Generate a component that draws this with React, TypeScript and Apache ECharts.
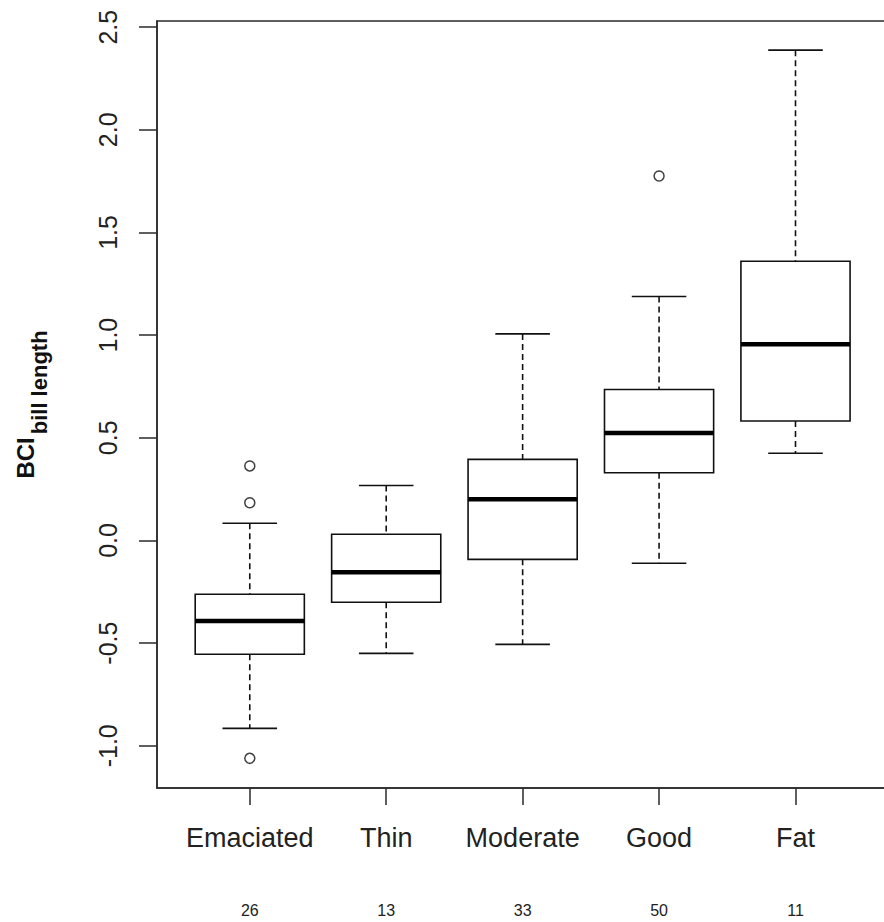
import React, { useEffect, useRef } from "react";
import * as echarts from "echarts";

const categories = ["Emaciated", "Thin", "Moderate", "Good", "Fat"];
const counts = [26, 13, 33, 50, 11];
const lowerWhisker = [-0.915, -0.55, -0.506, -0.111, 0.425];
const q1 = [-0.554, -0.301, -0.092, 0.33, 0.582];
const median = [-0.392, -0.155, 0.201, 0.524, 0.956];
const q3 = [-0.262, 0.03, 0.395, 0.735, 1.36];
const upperWhisker = [0.084, 0.268, 1.006, 1.188, 2.388];
// [category position (1-based), value]
const outliers: [number, number][] = [
  [1, 0.363],
  [1, 0.184],
  [1, -1.061],
  [4, 1.775],
];
const yTicks = [-1.0, -0.5, 0.0, 0.5, 1.0, 1.5, 2.0, 2.5];
const xTicks = [1, 2, 3, 4, 5];

const FONT = "'Liberation Sans', Arial, sans-serif";
const INK = "#111";
const FRAME = "#2a2a2a";

export default function App() {
  const ref = useRef<HTMLDivElement>(null);

  useEffect(() => {
    document.body.style.margin = "0";
    document.body.style.overflow = "hidden";
    if (!ref.current) return;
    const chart = echarts.init(ref.current, undefined, { renderer: "svg" });

    const boxData = categories.map((_, i) => [
      i + 1,
      lowerWhisker[i],
      q1[i],
      median[i],
      q3[i],
      upperWhisker[i],
    ]);

    const renderItem = (_params: any, api: any) => {
      const x = api.value(0);
      const lo = api.value(1);
      const b1 = api.value(2);
      const md = api.value(3);
      const b3 = api.value(4);
      const hi = api.value(5);
      const [cx, yLo] = api.coord([x, lo]);
      const yB1 = api.coord([x, b1])[1];
      const yMd = api.coord([x, md])[1];
      const yB3 = api.coord([x, b3])[1];
      const yHi = api.coord([x, hi])[1];
      const xl = api.coord([x - 0.4, md])[0];
      const xr = api.coord([x + 0.4, md])[0];
      const cl = api.coord([x - 0.2, md])[0];
      const cr = api.coord([x + 0.2, md])[0];
      const dashed = { stroke: INK, lineWidth: 1.6, lineDash: [6, 4], fill: null };
      const solid = { stroke: INK, lineWidth: 1.6, fill: null };
      return {
        type: "group",
        children: [
          { type: "line", shape: { x1: cx, y1: yHi, x2: cx, y2: yB3 }, style: dashed },
          { type: "line", shape: { x1: cx, y1: yB1, x2: cx, y2: yLo }, style: dashed },
          { type: "line", shape: { x1: cl, y1: yHi, x2: cr, y2: yHi }, style: solid },
          { type: "line", shape: { x1: cl, y1: yLo, x2: cr, y2: yLo }, style: solid },
          {
            type: "rect",
            shape: { x: xl, y: yB3, width: xr - xl, height: yB1 - yB3 },
            style: { stroke: INK, lineWidth: 1.6, fill: "#fff" },
          },
          {
            type: "line",
            shape: { x1: xl, y1: yMd, x2: xr, y2: yMd },
            style: { stroke: "#000", lineWidth: 4.5 },
          },
        ],
      };
    };

    chart.setOption({
      animation: false,
      backgroundColor: "#fff",
      grid: {
        left: 157,
        top: 21,
        width: 734,
        height: 767,
        show: true,
        borderColor: FRAME,
        borderWidth: 1.5,
        backgroundColor: "transparent",
      },
      xAxis: {
        type: "value",
        min: 0.32,
        max: 5.7,
        splitLine: { show: false },
        axisLine: { show: true, onZero: false, lineStyle: { color: FRAME, width: 1.5 } },
        axisTick: {
          show: true,
          customValues: xTicks,
          length: 17,
          lineStyle: { color: FRAME, width: 1.5 },
        },
        axisLabel: {
          customValues: xTicks,
          margin: 35,
          formatter: (v: number) => {
            const i = Math.round(v) - 1;
            return `{a|${categories[i]}}\n{b|${counts[i]}}`;
          },
          rich: {
            a: { fontFamily: FONT, fontSize: 27, color: "#222", lineHeight: 30 },
            b: { fontFamily: FONT, fontSize: 16, color: "#222", lineHeight: 114 },
          },
        },
      },
      yAxis: {
        type: "value",
        min: -1.2055,
        max: 2.53,
        splitLine: { show: false },
        axisLine: { show: true, onZero: false, lineStyle: { color: FRAME, width: 1.5 } },
        axisTick: {
          show: true,
          customValues: yTicks,
          length: 18,
          lineStyle: { color: FRAME, width: 1.5 },
        },
        axisLabel: {
          customValues: yTicks,
          rotate: 90,
          margin: 37,
          fontFamily: FONT,
          fontSize: 25,
          color: "#222",
          formatter: (v: number) => v.toFixed(1),
        },
        name: "{a|BCI}{b|bill length}",
        nameLocation: "middle",
        nameRotate: 90,
        nameGap: 107,
        nameTextStyle: {
          rich: {
            a: {
              fontFamily: FONT,
              fontSize: 24,
              fontWeight: "bold",
              color: "#111",
              lineHeight: 26,
              verticalAlign: "top",
            },
            b: {
              fontFamily: FONT,
              fontSize: 22,
              fontWeight: "bold",
              color: "#111",
              lineHeight: 37,
              verticalAlign: "bottom",
              padding: [0, 0, 0, 3],
            },
          },
        },
      },
      series: [
        {
          type: "custom",
          renderItem,
          encode: { x: 0, y: [1, 2, 3, 4, 5] },
          data: boxData,
          z: 2,
        },
        {
          type: "scatter",
          data: outliers,
          symbol: "circle",
          symbolSize: 10,
          itemStyle: { color: "#fff", borderColor: INK, borderWidth: 1.5 },
          z: 3,
        },
      ],
    });

    return () => chart.dispose();
  }, []);

  return (
    <div
      ref={ref}
      style={{ position: "fixed", left: 0, top: 0, width: 900, height: 922 }}
    />
  );
}
